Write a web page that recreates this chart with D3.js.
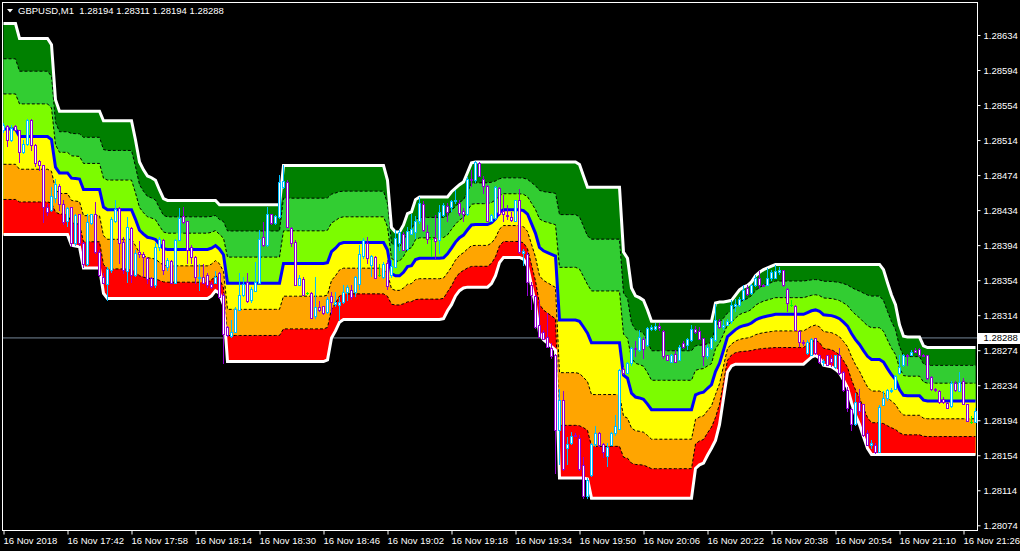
<!DOCTYPE html>
<html><head><meta charset="utf-8">
<script src="https://cdn.jsdelivr.net/npm/d3@7"></script>
<style>
html,body{margin:0;padding:0;background:#000;overflow:hidden;}
svg{display:block;}
text{font-family:"Liberation Sans",Arial,sans-serif;}
</style></head><body>
<svg id="chart" width="1020" height="551"></svg>
<script>
const symbolTitle = "GBPUSD,M1";
const headerQuote = [1.28194, 1.28311, 1.28194, 1.28288];
const currentPrice = 1.28288;
const yTickValues = [1.28634,1.28594,1.28554,1.28514,1.28474,1.28434,1.28394,1.28354,1.28314,1.28274,1.28234,1.28194,1.28154,1.28114,1.28074];
const xTickBars = [0,16,32,48,64,80,96,112,128,144,160,176,192,208,224,240];
const xTickLabels = ["16 Nov 2018","16 Nov 17:42","16 Nov 17:58","16 Nov 18:14","16 Nov 18:30","16 Nov 18:46","16 Nov 19:02","16 Nov 19:18","16 Nov 19:34","16 Nov 19:50","16 Nov 20:06","16 Nov 20:22","16 Nov 20:38","16 Nov 20:54","16 Nov 21:10","16 Nov 21:26"];

const opens = [
1.28525,1.28530,1.28514,1.28530,1.28525,1.28500,1.28510,1.28537,1.28508,1.28490,
1.28485,1.28438,1.28434,1.28448,1.28462,1.28441,1.28422,1.28437,1.28396,1.28429,
1.28396,1.28373,1.28419,1.28429,1.28386,1.28358,1.28350,1.28366,1.28422,1.28436,
1.28398,1.28365,1.28414,1.28360,1.28386,1.28384,1.28379,1.28356,1.28348,1.28392,
1.28400,1.28369,1.28376,1.28351,1.28400,1.28427,1.28421,1.28392,1.28381,1.28356,
1.28358,1.28360,1.28350,1.28351,1.28362,1.28337,1.28300,1.28290,1.28295,1.28320,
1.28337,1.28352,1.28331,1.28342,1.28351,1.28403,1.28394,1.28429,1.28419,1.28426,
1.28460,1.28466,1.28414,1.28398,1.28349,1.28355,1.28339,1.28339,1.28313,1.28323,
1.28325,1.28318,1.28336,1.28327,1.28326,1.28329,1.28341,1.28343,1.28341,1.28350,
1.28382,1.28397,1.28371,1.28380,1.28360,1.28358,1.28374,1.28360,1.28369,1.28396,
1.28407,1.28390,1.28407,1.28409,1.28421,1.28441,1.28409,1.28401,1.28402,1.28400,
1.28428,1.28439,1.28438,1.28444,1.28442,1.28433,1.28430,1.28469,1.28468,1.28488,
1.28470,1.28461,1.28422,1.28425,1.28459,1.28433,1.28428,1.28426,1.28422,1.28445,
1.28385,1.28384,1.28348,1.28336,1.28303,1.28295,1.28289,1.28277,1.28268,1.28183,
1.28217,1.28162,1.28168,1.28177,1.28174,1.28143,1.28107,1.28131,1.28167,1.28179,
1.28167,1.28153,1.28166,1.28179,1.28184,1.28253,1.28248,1.28259,1.28277,1.28274,
1.28287,1.28280,1.28298,1.28298,1.28302,1.28296,1.28268,1.28261,1.28270,1.28263,
1.28282,1.28280,1.28286,1.28298,1.28296,1.28288,1.28267,1.28277,1.28286,1.28307,
1.28300,1.28303,1.28307,1.28324,1.28326,1.28333,1.28345,1.28339,1.28348,1.28356,
1.28349,1.28348,1.28357,1.28357,1.28363,1.28366,1.28344,1.28326,1.28325,1.28296,
1.28283,1.28271,1.28269,1.28288,1.28268,1.28260,1.28268,1.28265,1.28255,1.28268,
1.28249,1.28228,1.28207,1.28190,1.28215,1.28212,1.28179,1.28166,1.28166,1.28158,
1.28211,1.28219,1.28227,1.28230,1.28248,1.28257,1.28269,1.28269,1.28274,1.28275,
1.28269,1.28268,1.28243,1.28230,1.28227,1.28218,1.28214,1.28210,1.28237,1.28227,
1.28239,1.28212,1.28192,1.28192];

const highs = [
1.28533,1.28531,1.28531,1.28531,1.28526,1.28514,1.28538,1.28538,1.28510,1.28491,
1.28486,1.28441,1.28460,1.28470,1.28464,1.28445,1.28438,1.28438,1.28430,1.28430,
1.28398,1.28430,1.28430,1.28443,1.28388,1.28362,1.28369,1.28426,1.28445,1.28438,
1.28403,1.28426,1.28415,1.28388,1.28399,1.28386,1.28380,1.28358,1.28396,1.28403,
1.28401,1.28379,1.28377,1.28401,1.28436,1.28438,1.28422,1.28394,1.28382,1.28373,
1.28373,1.28362,1.28352,1.28365,1.28363,1.28339,1.28302,1.28308,1.28323,1.28362,
1.28358,1.28362,1.28346,1.28375,1.28411,1.28420,1.28438,1.28430,1.28428,1.28474,
1.28485,1.28468,1.28415,1.28400,1.28360,1.28358,1.28341,1.28341,1.28358,1.28330,
1.28325,1.28335,1.28341,1.28340,1.28335,1.28348,1.28348,1.28348,1.28359,1.28394,
1.28402,1.28403,1.28383,1.28382,1.28372,1.28375,1.28377,1.28377,1.28411,1.28411,
1.28409,1.28415,1.28430,1.28427,1.28449,1.28444,1.28417,1.28406,1.28428,1.28440,
1.28442,1.28442,1.28446,1.28457,1.28446,1.28436,1.28472,1.28480,1.28490,1.28489,
1.28473,1.28463,1.28430,1.28461,1.28460,1.28451,1.28440,1.28432,1.28446,1.28458,
1.28390,1.28386,1.28352,1.28337,1.28331,1.28297,1.28316,1.28282,1.28270,1.28230,
1.28227,1.28175,1.28181,1.28179,1.28177,1.28152,1.28128,1.28168,1.28187,1.28180,
1.28168,1.28168,1.28180,1.28200,1.28253,1.28255,1.28261,1.28278,1.28284,1.28297,
1.28289,1.28301,1.28303,1.28305,1.28305,1.28297,1.28269,1.28270,1.28274,1.28280,
1.28284,1.28288,1.28303,1.28302,1.28301,1.28288,1.28280,1.28289,1.28327,1.28310,
1.28308,1.28310,1.28331,1.28333,1.28335,1.28348,1.28348,1.28350,1.28360,1.28364,
1.28350,1.28368,1.28366,1.28371,1.28369,1.28366,1.28345,1.28331,1.28326,1.28297,
1.28286,1.28286,1.28288,1.28288,1.28270,1.28264,1.28269,1.28268,1.28269,1.28276,
1.28250,1.28232,1.28208,1.28225,1.28230,1.28213,1.28183,1.28171,1.28168,1.28211,
1.28227,1.28230,1.28231,1.28246,1.28269,1.28270,1.28270,1.28274,1.28276,1.28276,
1.28270,1.28269,1.28244,1.28231,1.28228,1.28220,1.28215,1.28239,1.28239,1.28249,
1.28242,1.28213,1.28199,1.28208];

const lows = [
1.28523,1.28507,1.28512,1.28525,1.28488,1.28499,1.28508,1.28502,1.28484,1.28479,
1.28420,1.28428,1.28432,1.28443,1.28434,1.28417,1.28415,1.28392,1.28394,1.28394,
1.28369,1.28371,1.28417,1.28384,1.28358,1.28350,1.28331,1.28363,1.28420,1.28373,
1.28362,1.28351,1.28351,1.28358,1.28380,1.28358,1.28350,1.28346,1.28346,1.28388,
1.28360,1.28365,1.28350,1.28350,1.28399,1.28419,1.28373,1.28373,1.28350,1.28342,
1.28350,1.28346,1.28344,1.28350,1.28333,1.28259,1.28290,1.28289,1.28294,1.28320,
1.28335,1.28328,1.28329,1.28341,1.28350,1.28392,1.28392,1.28418,1.28417,1.28424,
1.28459,1.28415,1.28392,1.28348,1.28348,1.28336,1.28338,1.28310,1.28310,1.28318,
1.28315,1.28316,1.28316,1.28324,1.28308,1.28327,1.28331,1.28332,1.28335,1.28343,
1.28379,1.28373,1.28358,1.28356,1.28358,1.28356,1.28343,1.28357,1.28368,1.28388,
1.28388,1.28388,1.28406,1.28401,1.28419,1.28409,1.28396,1.28381,1.28379,1.28385,
1.28427,1.28421,1.28432,1.28442,1.28428,1.28421,1.28428,1.28461,1.28466,1.28472,
1.28453,1.28421,1.28421,1.28423,1.28428,1.28421,1.28423,1.28421,1.28421,1.28385,
1.28371,1.28337,1.28320,1.28299,1.28289,1.28286,1.28277,1.28265,1.28133,1.28143,
1.28137,1.28143,1.28166,1.28175,1.28137,1.28105,1.28105,1.28130,1.28164,1.28164,
1.28152,1.28141,1.28165,1.28177,1.28183,1.28246,1.28247,1.28257,1.28267,1.28272,
1.28265,1.28278,1.28296,1.28296,1.28297,1.28265,1.28262,1.28260,1.28260,1.28262,
1.28276,1.28275,1.28284,1.28293,1.28286,1.28257,1.28265,1.28275,1.28284,1.28299,
1.28298,1.28302,1.28305,1.28318,1.28324,1.28331,1.28337,1.28338,1.28347,1.28345,
1.28347,1.28348,1.28354,1.28356,1.28361,1.28347,1.28318,1.28324,1.28296,1.28278,
1.28279,1.28269,1.28268,1.28269,1.28259,1.28257,1.28256,1.28255,1.28253,1.28246,
1.28227,1.28204,1.28182,1.28188,1.28200,1.28175,1.28166,1.28162,1.28156,1.28158,
1.28211,1.28217,1.28226,1.28230,1.28246,1.28255,1.28257,1.28268,1.28271,1.28267,
1.28267,1.28241,1.28228,1.28227,1.28213,1.28213,1.28207,1.28208,1.28227,1.28227,
1.28212,1.28192,1.28190,1.28191];

const closes = [
1.28531,1.28514,1.28528,1.28526,1.28500,1.28510,1.28537,1.28508,1.28488,1.28485,
1.28437,1.28432,1.28450,1.28464,1.28441,1.28420,1.28436,1.28396,1.28428,1.28396,
1.28373,1.28420,1.28429,1.28386,1.28360,1.28351,1.28367,1.28424,1.28435,1.28396,
1.28366,1.28415,1.28360,1.28385,1.28384,1.28380,1.28355,1.28347,1.28392,1.28401,
1.28366,1.28377,1.28351,1.28400,1.28425,1.28420,1.28389,1.28381,1.28358,1.28358,
1.28351,1.28348,1.28346,1.28358,1.28335,1.28292,1.28291,1.28295,1.28321,1.28337,
1.28350,1.28330,1.28344,1.28352,1.28401,1.28394,1.28429,1.28419,1.28427,1.28466,
1.28467,1.28415,1.28396,1.28349,1.28356,1.28337,1.28339,1.28311,1.28323,1.28320,
1.28317,1.28333,1.28329,1.28329,1.28329,1.28341,1.28346,1.28335,1.28358,1.28384,
1.28400,1.28379,1.28382,1.28357,1.28360,1.28373,1.28347,1.28370,1.28402,1.28409,
1.28389,1.28410,1.28412,1.28421,1.28442,1.28411,1.28401,1.28401,1.28399,1.28432,
1.28440,1.28432,1.28444,1.28446,1.28431,1.28430,1.28470,1.28468,1.28489,1.28473,
1.28461,1.28422,1.28428,1.28460,1.28430,1.28430,1.28427,1.28423,1.28446,1.28386,
1.28387,1.28352,1.28337,1.28301,1.28289,1.28287,1.28278,1.28267,1.28183,1.28217,
1.28138,1.28167,1.28176,1.28176,1.28138,1.28107,1.28126,1.28167,1.28179,1.28166,
1.28158,1.28164,1.28179,1.28187,1.28251,1.28248,1.28259,1.28277,1.28275,1.28289,
1.28275,1.28299,1.28301,1.28302,1.28299,1.28267,1.28263,1.28268,1.28261,1.28278,
1.28278,1.28287,1.28298,1.28295,1.28287,1.28267,1.28278,1.28288,1.28308,1.28300,
1.28303,1.28307,1.28326,1.28327,1.28333,1.28343,1.28338,1.28348,1.28356,1.28349,
1.28348,1.28356,1.28363,1.28364,1.28366,1.28348,1.28328,1.28326,1.28297,1.28283,
1.28282,1.28283,1.28287,1.28271,1.28261,1.28262,1.28257,1.28261,1.28268,1.28248,
1.28228,1.28208,1.28190,1.28215,1.28204,1.28177,1.28166,1.28168,1.28158,1.28209,
1.28219,1.28228,1.28228,1.28244,1.28255,1.28268,1.28268,1.28272,1.28272,1.28268,
1.28268,1.28242,1.28230,1.28228,1.28215,1.28215,1.28208,1.28237,1.28228,1.28238,
1.28213,1.28193,1.28192,1.28205];

const bandTop = [
1.28647,1.28647,1.28647,1.28647,
1.28630,1.28630,1.28630,1.28630,1.28630,1.28630,1.28630,1.28630,
1.28623,1.28560,
1.28547,1.28547,1.28547,1.28547,1.28547,1.28547,1.28547,1.28547,1.28547,1.28547,1.28547,
1.28536,1.28536,1.28536,1.28536,1.28536,1.28536,1.28536,1.28536,
1.28514,1.28489,1.28480,1.28473,1.28471,1.28468,1.28457,1.28447,
1.28445,1.28445,1.28445,1.28445,1.28445,1.28445,1.28445,1.28445,1.28445,1.28445,1.28445,1.28445,1.28445,
1.28440,1.28440,1.28440,1.28440,1.28440,1.28440,1.28440,1.28440,1.28440,1.28440,1.28440,1.28440,1.28440,1.28440,1.28440,1.28440,
1.28485,1.28485,1.28485,1.28485,1.28485,1.28485,1.28485,1.28485,1.28485,1.28485,1.28485,1.28485,1.28485,
1.28485,1.28485,1.28485,1.28485,1.28485,1.28485,1.28485,1.28485,1.28485,1.28485,1.28485,1.28485,1.28485,
1.28468,1.28414,1.28409,1.28409,1.28417,1.28430,1.28432,1.28446,
1.28449,1.28449,1.28449,1.28449,1.28449,1.28449,1.28449,1.28449,
1.28455,1.28459,1.28463,1.28466,1.28477,1.28488,
1.28489,1.28489,1.28489,1.28489,1.28489,1.28489,1.28489,1.28489,1.28489,1.28489,1.28489,1.28489,1.28489,
1.28489,1.28489,1.28489,1.28489,1.28489,1.28489,1.28489,1.28489,1.28489,1.28489,1.28489,1.28489,1.28489,
1.28486,1.28473,
1.28460,1.28460,1.28460,1.28460,1.28460,1.28460,1.28460,1.28460,1.28460,
1.28386,1.28379,1.28345,1.28336,1.28334,1.28331,1.28320,
1.28307,1.28307,1.28307,1.28307,1.28307,1.28307,1.28307,1.28307,1.28307,1.28307,1.28307,1.28307,1.28307,1.28307,1.28307,1.28307,
1.28328,1.28329,1.28329,1.28330,1.28331,1.28337,1.28343,1.28346,1.28348,1.28352,1.28359,1.28363,1.28366,1.28368,1.28370,
1.28372,1.28372,1.28372,1.28372,1.28372,1.28372,1.28372,1.28372,1.28372,1.28372,1.28372,1.28372,1.28372,1.28372,
1.28372,1.28372,1.28372,1.28372,1.28372,1.28372,1.28372,1.28372,1.28372,1.28372,1.28372,1.28372,1.28372,
1.28366,1.28351,1.28337,1.28326,1.28303,1.28290,
1.28289,1.28289,1.28289,1.28289,
1.28279,
1.28277,1.28277,1.28277,1.28277,1.28277,1.28277,1.28277,1.28277,1.28277,1.28277,1.28277,1.28277,1.28277];

const bandBottom = [
1.28406,1.28406,1.28406,1.28406,1.28406,1.28406,1.28406,1.28406,1.28406,1.28406,1.28406,1.28406,1.28406,1.28406,1.28406,1.28406,1.28406,
1.28394,1.28393,1.28392,
1.28368,1.28368,1.28368,1.28368,1.28368,
1.28339,
1.28333,1.28333,1.28333,1.28333,1.28333,1.28333,1.28333,1.28333,1.28333,1.28333,1.28333,1.28333,1.28333,
1.28333,1.28333,1.28333,1.28333,1.28333,1.28333,1.28333,1.28333,1.28333,1.28333,1.28333,1.28333,1.28333,
1.28336,1.28342,1.28339,1.28326,
1.28261,1.28261,1.28261,1.28261,1.28261,1.28261,1.28261,1.28261,1.28261,1.28261,1.28261,1.28261,1.28261,
1.28261,1.28261,1.28261,1.28261,1.28261,1.28261,1.28261,1.28261,1.28261,1.28261,1.28261,1.28261,
1.28263,1.28288,1.28296,1.28306,
1.28309,1.28309,1.28309,1.28309,1.28309,1.28309,1.28309,1.28309,1.28309,1.28309,1.28309,1.28309,1.28309,
1.28309,1.28309,1.28309,1.28309,1.28309,1.28309,1.28309,1.28309,1.28309,1.28309,1.28309,1.28309,
1.28310,1.28319,1.28326,1.28336,1.28342,1.28345,
1.28346,1.28346,1.28346,1.28346,1.28346,1.28346,
1.28350,1.28359,1.28374,
1.28380,1.28380,1.28380,1.28380,1.28380,
1.28378,1.28370,1.28348,1.28326,1.28294,1.28286,1.28282,1.28278,1.28274,
1.28128,1.28128,1.28128,1.28128,1.28128,1.28128,1.28128,
1.28127,
1.28105,1.28105,1.28105,1.28105,1.28105,1.28105,1.28105,1.28105,1.28105,1.28105,1.28105,1.28105,1.28105,
1.28105,1.28105,1.28105,1.28105,1.28105,1.28105,1.28105,1.28105,1.28105,1.28105,1.28105,1.28105,1.28105,
1.28139,1.28143,1.28145,1.28154,1.28162,1.28171,1.28189,1.28219,1.28249,1.28256,
1.28258,1.28258,1.28258,1.28258,1.28258,1.28258,1.28258,1.28258,1.28258,
1.28258,1.28258,1.28258,1.28258,1.28258,1.28258,1.28258,1.28258,1.28258,
1.28262,1.28266,1.28268,1.28265,1.28257,1.28256,1.28255,1.28252,1.28248,1.28240,1.28231,1.28214,1.28200,1.28189,1.28175,1.28162,
1.28155,1.28155,1.28155,1.28155,1.28155,1.28155,1.28155,1.28155,1.28155,1.28155,1.28155,1.28155,1.28155,1.28155,
1.28155,1.28155,1.28155,1.28155,1.28155,1.28155,1.28155,1.28155,1.28155,1.28155,1.28155,1.28155,1.28155,1.28155];

const bandColors = ["#008000","#32CD32","#7CFC00","#FFFF00","#FFA500","#FF0000"];
const BULL = "#00BFFF", BEAR = "#9400D3", DOJI = "#00FF00";

const W = 1020, H = 551;
const frame = {left: 2.5, top: 2.5, right: 977.5, bottom: 530.5};
const svg = d3.select("#chart");
svg.append("rect").attr("width", W).attr("height", H).attr("fill", "#000");

const n = opens.length;
const bars = d3.range(n);
const x = d3.scaleLinear().domain([0, 243]).range([3.5, 975.5]);
const y = d3.scaleLinear().domain([1.28074, 1.28634]).range([525.3, 35]);

svg.append("defs").append("clipPath").attr("id", "clip")
  .append("rect").attr("x", 3).attr("y", 3).attr("width", 974).attr("height", 527);

const plot = svg.append("g").attr("clip-path", "url(#clip)");

// current price line (behind the bands)
plot.append("line")
  .attr("x1", frame.left).attr("x2", frame.right)
  .attr("y1", y(currentPrice)).attr("y2", y(currentPrice))
  .attr("stroke", "#778899").attr("stroke-width", 1);

const level = (i, k) => bandTop[i] + (bandBottom[i] - bandTop[i]) * k / 6;

// filled bands (each area from its level down to bottom, painted in order)
bandColors.forEach((col, k) => {
  const area = d3.area()
    .x(i => x(i))
    .y0(i => y(level(i, 6)))
    .y1(i => y(level(i, k)));
  plot.append("path").datum(bars).attr("d", area).attr("fill", col);
});

// dashed inner lines
[1, 2, 4, 5].forEach(k => {
  const ln = d3.line().x(i => x(i)).y(i => y(level(i, k)));
  plot.append("path").datum(bars).attr("d", ln)
    .attr("fill", "none").attr("stroke", "#000").attr("stroke-width", 1)
    .attr("stroke-dasharray", "3,2");
});

// middle line
plot.append("path").datum(bars)
  .attr("d", d3.line().x(i => x(i)).y(i => y(level(i, 3))))
  .attr("fill", "none").attr("stroke", "#0000FF").attr("stroke-width", 3);

// outer white lines
[0, 6].forEach(k => {
  plot.append("path").datum(bars)
    .attr("d", d3.line().x(i => x(i)).y(i => y(level(i, k))))
    .attr("fill", "none").attr("stroke", "#FFFFFF").attr("stroke-width", 3);
});

// candles
const cg = plot.append("g").attr("shape-rendering", "crispEdges");
const colorOf = i => closes[i] > opens[i] ? BULL : (closes[i] < opens[i] ? BEAR : DOJI);
cg.selectAll("line.wick").data(bars).join("line").attr("class", "wick")
  .attr("x1", i => x(i)).attr("x2", i => x(i))
  .attr("y1", i => y(highs[i])).attr("y2", i => y(lows[i]) + 0.5)
  .attr("stroke", colorOf).attr("stroke-width", 1);
const bodies = bars.filter(i => closes[i] !== opens[i]);
cg.selectAll("rect.body").data(bodies).join("rect").attr("class", "body")
  .attr("x", i => x(i) - 1)
  .attr("y", i => Math.round(y(Math.max(opens[i], closes[i]))) + 0.5)
  .attr("width", 2)
  .attr("height", i => Math.max(1, Math.round(y(Math.min(opens[i], closes[i]))) - Math.round(y(Math.max(opens[i], closes[i])))))
  .attr("fill", "#FFFFFF").attr("stroke", colorOf).attr("stroke-width", 1);
const dojis = bars.filter(i => closes[i] === opens[i]);
cg.selectAll("line.doji").data(dojis).join("line").attr("class", "doji")
  .attr("x1", i => x(i) - 1.5).attr("x2", i => x(i) + 1.5)
  .attr("y1", i => Math.round(y(opens[i])) + 0.5).attr("y2", i => Math.round(y(opens[i])) + 0.5)
  .attr("stroke", DOJI).attr("stroke-width", 1);

// frame
svg.append("rect")
  .attr("x", frame.left).attr("y", frame.top)
  .attr("width", frame.right - frame.left).attr("height", frame.bottom - frame.top)
  .attr("fill", "none").attr("stroke", "#FFFFFF").attr("stroke-width", 1);

// right price axis
const yAxis = d3.axisRight(y).tickValues(yTickValues).tickSize(3).tickPadding(3)
  .tickFormat(d3.format(".5f"));
const gy = svg.append("g").attr("transform", `translate(${frame.right},0)`).call(yAxis);
gy.select(".domain").remove();
gy.selectAll(".tick line").attr("stroke", "#FFFFFF");
gy.selectAll(".tick text").attr("fill", "#FFFFFF").style("font-size", "9.5px")
  .style("font-family", '"Liberation Sans", Arial, sans-serif');

// bottom time axis
const xAxis = d3.axisBottom(x).tickValues(xTickBars).tickSize(4).tickPadding(3)
  .tickFormat((d, k) => xTickLabels[k]);
const gx = svg.append("g").attr("transform", `translate(0,${frame.bottom})`).call(xAxis);
gx.select(".domain").remove();
gx.selectAll(".tick line").attr("stroke", "#FFFFFF");
gx.selectAll(".tick text").attr("fill", "#FFFFFF").attr("text-anchor", "start").attr("x", -0.5)
  .style("font-size", "9.5px").style("font-family", '"Liberation Sans", Arial, sans-serif');

// current price label
const cpY = y(currentPrice);
svg.append("rect").attr("x", 978).attr("y", Math.round(cpY) - 5).attr("width", 42).attr("height", 11)
  .attr("fill", "#FFFFFF");
svg.append("text").attr("x", 983.5).attr("y", cpY).attr("dy", "0.34em")
  .attr("fill", "#000000").style("font-size", "9.5px").text(d3.format(".5f")(currentPrice));

// header
svg.append("path").attr("d", "M7,9L13,9L10,12.5Z").attr("fill", "#FFFFFF");
svg.append("text").attr("x", 18).attr("y", 13.5).attr("fill", "#FFFFFF")
  .style("font-size", "9.5px").style("white-space", "pre")
  .text(symbolTitle + "  " + headerQuote.map(d3.format(".5f")).join(" "));
</script>
</body></html>
